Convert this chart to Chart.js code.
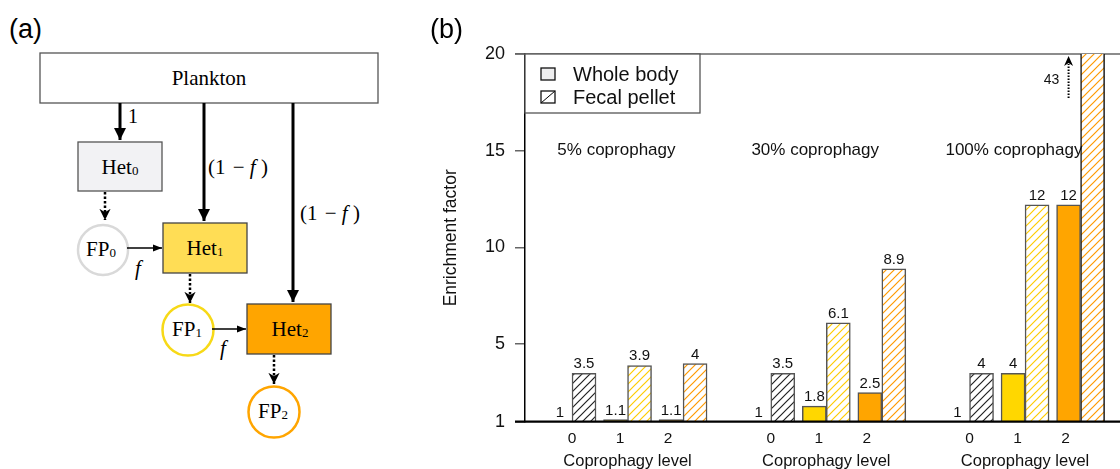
<!DOCTYPE html>
<html lang="en">
<head>
  <meta charset="UTF-8">
  <title>Coprophagy enrichment</title>
  <script src="https://cdn.jsdelivr.net/npm/chart.js"></script>
  <style>
    body { margin: 0; background: #fff; width: 1120px; height: 469px; overflow: hidden; position: relative; }
    #diagram { position: absolute; left: 0; top: 0; }
    #chart { position: absolute; left: 420px; top: 0; }
    .serif { font-family: "Liberation Serif", "Times New Roman", serif; }
  </style>
</head>
<body>
  <svg id="diagram" width="420" height="469">
    <defs>
      <marker id="head" viewBox="0 0 10 10" refX="10" refY="5" markerWidth="4" markerHeight="4" orient="auto">
        <path d="M0,0 L10,5 L0,10 z" fill="#000"/>
      </marker>
      <marker id="headThin" viewBox="0 0 10 10" refX="10" refY="5" markerWidth="6" markerHeight="6" orient="auto">
        <path d="M0,1 L10,5 L0,9 z" fill="#000"/>
      </marker>
      <marker id="headDot" viewBox="0 0 10 10" refX="10" refY="5" markerWidth="4.5" markerHeight="4.5" orient="auto">
        <path d="M0,0 L10,5 L0,10 L3,5 z" fill="#000"/>
      </marker>
    </defs>
    <text x="9" y="38" font-family="Liberation Sans, Arial" font-size="27">(a)</text>

    <rect x="40" y="53" width="338" height="50" fill="#fff" stroke="#555" stroke-width="1.3"/>
    <text class="serif" x="209" y="85" text-anchor="middle" font-size="21">Plankton</text>

    <line x1="120" y1="103" x2="120" y2="140" stroke="#000" stroke-width="3" marker-end="url(#head)"/>
    <text class="serif" x="128" y="123" font-size="20">1</text>

    <line x1="204" y1="103" x2="204" y2="221" stroke="#000" stroke-width="3" marker-end="url(#head)"/>
    <text class="serif" x="208" y="174" font-size="21">(1 <tspan dx="2">−</tspan> <tspan font-style="italic">f</tspan> )</text>

    <line x1="293" y1="103" x2="293" y2="302" stroke="#000" stroke-width="3" marker-end="url(#head)"/>
    <text class="serif" x="300" y="220" font-size="21">(1 <tspan dx="2">−</tspan> <tspan font-style="italic">f</tspan> )</text>

    <rect x="78" y="142" width="84" height="49" fill="#f2f2f4" stroke="#555" stroke-width="1.3"/>
    <text class="serif" x="120" y="174" text-anchor="middle" font-size="21">Het<tspan font-size="13" dy="1">0</tspan></text>

    <line x1="105" y1="192" x2="105" y2="220" stroke="#000" stroke-width="2.5" stroke-dasharray="2.5 2" marker-end="url(#headDot)"/>
    <circle cx="103" cy="250" r="25" fill="#fff" stroke="#d9d9d9" stroke-width="2.5"/>
    <text class="serif" x="101" y="256" text-anchor="middle" font-size="21">FP<tspan font-size="13" dy="1">0</tspan></text>

    <line x1="127" y1="248" x2="162" y2="248" stroke="#000" stroke-width="1.5" marker-end="url(#headThin)"/>
    <text class="serif" x="135" y="275" font-size="21" font-style="italic">f</text>

    <rect x="163" y="223" width="84" height="50" fill="#ffdd55" stroke="#444" stroke-width="1.3"/>
    <text class="serif" x="205" y="255" text-anchor="middle" font-size="21">Het<tspan font-size="13" dy="1">1</tspan></text>

    <line x1="190" y1="274" x2="190" y2="303" stroke="#000" stroke-width="2.5" stroke-dasharray="2.5 2" marker-end="url(#headDot)"/>
    <circle cx="188" cy="330" r="25.5" fill="#fff" stroke="#f7d917" stroke-width="2.5"/>
    <text class="serif" x="187" y="336" text-anchor="middle" font-size="21">FP<tspan font-size="13" dy="1">1</tspan></text>

    <line x1="212" y1="329" x2="246" y2="329" stroke="#000" stroke-width="1.5" marker-end="url(#headThin)"/>
    <text class="serif" x="220" y="355" font-size="21" font-style="italic">f</text>

    <rect x="247" y="304" width="84" height="50" fill="#ffa500" stroke="#444" stroke-width="1.3"/>
    <text class="serif" x="290" y="336" text-anchor="middle" font-size="21">Het<tspan font-size="13" dy="1">2</tspan></text>

    <line x1="274" y1="355" x2="274" y2="384" stroke="#000" stroke-width="2.5" stroke-dasharray="2.5 2" marker-end="url(#headDot)"/>
    <circle cx="274" cy="412" r="25.5" fill="#fff" stroke="#ffa500" stroke-width="2.5"/>
    <text class="serif" x="273" y="418" text-anchor="middle" font-size="21">FP<tspan font-size="13" dy="1">2</tspan></text>
  </svg>

  <canvas id="chart" width="700" height="469"></canvas>

  <script>
    // panel (b) data
    const groups = ['5% coprophagy', '30% coprophagy', '100% coprophagy'];
    const levels = ['0', '1', '2'];
    const wholeBody = [1, 1.1, 1.1, 1, 1.8, 2.5, 1, 3.5, 12.2];
    const fecalPellet = [3.5, 3.9, 4, 3.5, 6.1, 8.9, 3.5, 12.2, 43];
    const wholeBodyText = ['1', '1.1', '1.1', '1', '1.8', '2.5', '1', '4', '12'];
    const fecalPelletText = ['3.5', '3.9', '4', '3.5', '6.1', '8.9', '4', '12', '43'];
    const yTicks = [1, 5, 10, 15, 20];

    const levelColors = ['#eeeeef', '#ffd700', '#ffa500'];
    const hatchColors = ['#222222', '#ffcc00', '#ff9a00'];
    const groupStep = 3.58;
    const tickStep = 0.865;
    const FONT = '"Liberation Sans", Arial, sans-serif';

    function hatch(color) {
      const s = 8;
      const c = document.createElement('canvas');
      c.width = s; c.height = s;
      const g = c.getContext('2d');
      g.fillStyle = '#ffffff';
      g.fillRect(0, 0, s, s);
      g.strokeStyle = color;
      g.lineWidth = 1.2;
      g.beginPath();
      g.moveTo(0, s); g.lineTo(s, 0);
      g.moveTo(-2, 2); g.lineTo(2, -2);
      g.moveTo(s - 2, s + 2); g.lineTo(s + 2, s - 2);
      g.stroke();
      return g.createPattern(c, 'repeat');
    }

    const xPos = i => Math.floor(i / 3) * groupStep + (i % 3);
    const wbData = wholeBody.map((v, i) => ({ x: xPos(i), y: v }));
    const fpData = fecalPellet.map((v, i) => ({ x: xPos(i), y: v }));
    const patterns = hatchColors.map(c => hatch(c));

    const extras = {
      id: 'extras',
      beforeDatasetsDraw(chart) {
        const { ctx, chartArea: a } = chart;
        ctx.save();
        ctx.strokeStyle = '#666';
        ctx.lineWidth = 1.5;
        ctx.beginPath();
        ctx.moveTo(a.left - 10, a.top);
        ctx.lineTo(a.right, a.top);
        ctx.stroke();
        ctx.restore();
      },
      afterDatasetsDraw(chart) {
        const { ctx, chartArea: a, scales: { x, y } } = chart;
        ctx.save();
        // baseline
        ctx.strokeStyle = '#000';
        ctx.lineWidth = 2.2;
        ctx.beginPath();
        ctx.moveTo(a.left - 10, a.bottom);
        ctx.lineTo(a.right, a.bottom);
        ctx.stroke();

        // value labels
        ctx.fillStyle = '#111';
        ctx.font = '15px ' + FONT;
        ctx.textAlign = 'center';
        ctx.textBaseline = 'alphabetic';
        [0, 1].forEach(d => {
          const meta = chart.getDatasetMeta(d);
          const vals = d === 0 ? wholeBody : fecalPellet;
          const txt = d === 0 ? wholeBodyText : fecalPelletText;
          meta.data.forEach((bar, i) => {
            if (vals[i] > y.max) return;
            ctx.fillText(txt[i], bar.x, bar.y - 5);
          });
        });

        // group titles and axis titles
        ctx.font = '17px ' + FONT;
        ctx.textBaseline = 'middle';
        groups.forEach((g, k) => {
          ctx.fillText(g, x.getPixelForValue(k * groupStep + 0.8), y.getPixelForValue(15));
        });
        ctx.font = '16.5px ' + FONT;
        groups.forEach((g, k) => {
          ctx.fillText('Coprophagy level', x.getPixelForValue(k * groupStep + 1), 461);
        });

        // off-scale arrow for the clipped bar
        fecalPellet.forEach((v, i) => {
          if (v <= y.max) return;
          const px = x.getPixelForValue(xPos(i)) - 12;
          ctx.strokeStyle = '#000';
          ctx.lineWidth = 2;
          ctx.setLineDash([1.5, 1.5]);
          ctx.beginPath();
          ctx.moveTo(px, a.top + 44);
          ctx.lineTo(px, a.top + 10);
          ctx.stroke();
          ctx.setLineDash([]);
          ctx.fillStyle = '#000';
          ctx.beginPath();
          ctx.moveTo(px, a.top + 2);
          ctx.lineTo(px - 4.5, a.top + 12);
          ctx.lineTo(px, a.top + 9);
          ctx.lineTo(px + 4.5, a.top + 12);
          ctx.closePath();
          ctx.fill();
          ctx.fillStyle = '#111';
          ctx.font = '14px ' + FONT;
          ctx.fillText(fecalPelletText[i], px - 17, a.top + 26);
        });

        // legend
        const lx = a.left, ly = a.top, lw = 175, lh = 59;
        ctx.fillStyle = '#fff';
        ctx.fillRect(lx, ly, lw, lh);
        ctx.strokeStyle = '#555';
        ctx.lineWidth = 1.3;
        ctx.strokeRect(lx, ly, lw, lh);
        const items = [['Whole body', '#eeeeef'], ['Fecal pellet', null]];
        items.forEach(([label, fill], k) => {
          const cy = ly + 20 + k * 23;
          const bx = lx + 16, bw = 14, bh = 12;
          ctx.fillStyle = fill || '#fff';
          ctx.fillRect(bx, cy - bh / 2, bw, bh);
          if (!fill) {
            ctx.strokeStyle = '#000';
            ctx.lineWidth = 1;
            ctx.beginPath();
            ctx.moveTo(bx, cy + bh / 2);
            ctx.lineTo(bx + bw, cy - bh / 2);
            ctx.stroke();
          }
          ctx.strokeStyle = '#111';
          ctx.lineWidth = 1.3;
          ctx.strokeRect(bx, cy - bh / 2, bw, bh);
          ctx.fillStyle = '#111';
          ctx.font = '20px ' + FONT;
          ctx.textAlign = 'left';
          ctx.textBaseline = 'middle';
          ctx.fillText(label, lx + 48, cy + 1);
        });
        ctx.restore();
      },
      afterDraw(chart) {
        const { ctx } = chart;
        ctx.save();
        ctx.fillStyle = '#000';
        ctx.font = '27px ' + FONT;
        ctx.textBaseline = 'alphabetic';
        ctx.fillText('(b)', 10, 38);
        ctx.restore();
      }
    };

    new Chart(document.getElementById('chart'), {
      type: 'bar',
      data: {
        datasets: [{
          label: 'Whole body',
          data: wbData,
          backgroundColor: wholeBody.map((v, i) => levelColors[i % 3]),
          borderColor: '#555',
          borderWidth: 1.5,
          borderSkipped: false,
          barThickness: 24
        }, {
          label: 'Fecal pellet',
          data: fpData,
          backgroundColor: fecalPellet.map((v, i) => patterns[i % 3]),
          borderColor: fecalPellet.map(v => v > 20 ? '#111' : '#555'),
          borderWidth: 1.5,
          borderSkipped: false,
          barThickness: 24
        }]
      },
      options: {
        responsive: false,
        animation: false,
        layout: { padding: { top: 54, right: 0, left: 0, bottom: 0 } },
        plugins: { legend: { display: false }, tooltip: { enabled: false } },
        scales: {
          x: {
            type: 'linear',
            offset: false,
            min: -0.847,
            max: 9.87,
            grid: { display: false, drawTicks: false },
            border: { display: false },
            afterBuildTicks: s => {
              s.ticks = [];
              groups.forEach((g, k) => levels.forEach((l, j) => s.ticks.push({ value: k * groupStep + j * tickStep })));
            },
            ticks: {
              autoSkip: false,
              maxRotation: 0,
              padding: 8,
              color: '#111',
              font: { family: FONT, size: 15.5 },
              callback: (v, i) => levels[i % 3]
            },
            afterFit: s => { s.height = 47.4; }
          },
          y: {
            min: 1,
            max: 20,
            afterBuildTicks: s => { s.ticks = yTicks.map(v => ({ value: v })); },
            grid: { drawOnChartArea: false, drawTicks: true, tickLength: 10, color: '#666', lineWidth: 1.5 },
            border: { color: '#000', width: 1.5 },
            ticks: {
              padding: 10,
              color: '#111',
              font: { family: FONT, size: 18 }
            },
            title: {
              display: true,
              text: 'Enrichment factor',
              color: '#111',
              font: { family: FONT, size: 17.5 },
              padding: { top: 21 }
            },
            afterFit: s => { s.width = 105; }
          }
        }
      },
      plugins: [extras]
    });
  </script>
</body>
</html>
